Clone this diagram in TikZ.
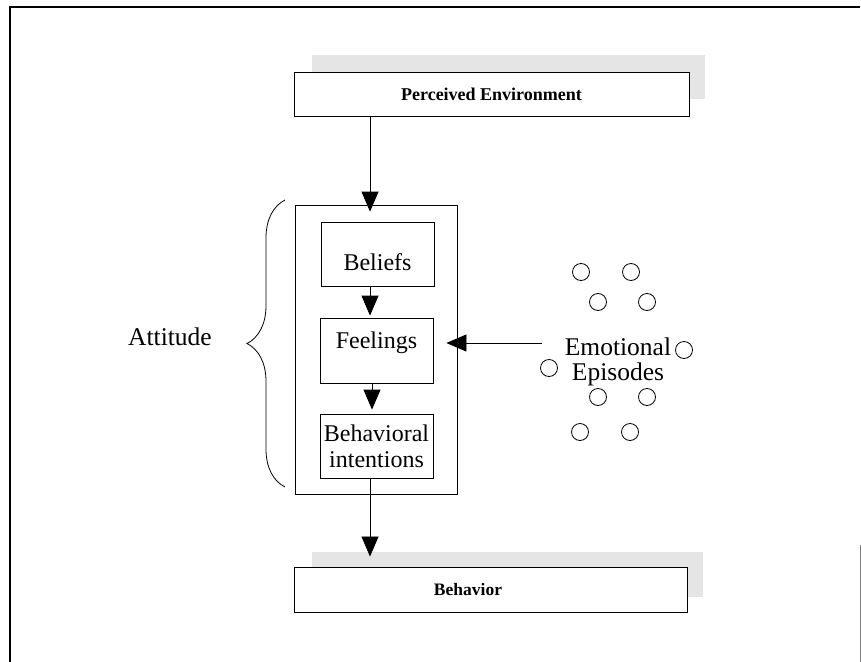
\documentclass[tikz,border=0pt]{standalone}
\usepackage{fontspec}
\setmainfont{Liberation Serif}
\usetikzlibrary{arrows.meta,decorations.pathreplacing}
\begin{document}
\begin{tikzpicture}[x=1pt,y=-1pt,
  bigbox/.style={draw,line width=0.9pt,fill=white,inner sep=0pt},
  shadowbox/.style={fill=gray!20,draw=none},
  innerbox/.style={draw,line width=0.8pt,inner sep=0pt,align=center,font=\fontsize{24}{26}\selectfont},
  boxtext/.style={font=\fontsize{24}{26}\selectfont,align=center,inner sep=0pt},
  arr/.style={line width=0.8pt,-{Triangle[length=20pt,width=17pt]}},
  epi/.style={draw,circle,line width=0.8pt,minimum size=17pt,inner sep=0pt},
  lbl/.style={font=\fontsize{25.5}{25}\selectfont,align=center,inner sep=0pt}]
\useasboundingbox (0,0) rectangle (861,661);
\fill[white] (0,0) rectangle (861,661);
% outer frame
\draw[line width=1.1pt] (10,670) -- (10,7) -- (860,7);
\draw[gray,line width=0.8pt] (860,545) -- (860,670);
% shadows
\fill[shadowbox] (312,55) rectangle (705,99);
\fill[shadowbox] (312,552) rectangle (703,597);
% top and bottom boxes
\node[bigbox,minimum width=395pt,minimum height=44pt,font=\fontsize{18}{18}\selectfont\bfseries] (env) at (491.5,94) {Perceived Environment};
\node[bigbox,minimum width=393pt,minimum height=45pt] (beh) at (490.5,589.5) {};
\node[font=\fontsize{17.5}{18}\selectfont\bfseries,inner sep=0pt] (behl) at (468,589.5) {Behavior};
% attitude box
\node[draw,line width=0.8pt,minimum width=162pt,minimum height=289pt,inner sep=0pt] (att) at (376,349.5) {};
\node[draw,line width=0.8pt,minimum width=113pt,minimum height=64pt] (bel) at (377.5,254) {};
\node[boxtext] (bell) at (377.5,262) {Beliefs};
\node[draw,line width=0.8pt,minimum width=113pt,minimum height=65pt] (fee) at (376.5,350.5) {};
\node[boxtext] (feel) at (376.5,343) {Feelings};
\node[innerbox,minimum width=113pt,minimum height=64pt] (bin) at (376.5,446) {Behavioral\\intentions};
% arrows
\draw[arr,shorten >=-7pt] ([xshift=-121.5pt]env.south) -- ([xshift=-6pt]att.north);
\draw[arr,shorten >=2pt] ([xshift=-7.5pt]bel.south) -- ([xshift=-6.5pt]fee.north);
\draw[arr,shorten >=4pt] ([xshift=-4.5pt]fee.south) -- ([xshift=-4.5pt]bin.north);
\draw[arr,shorten >=10pt] ([xshift=-6.5pt]bin.south) -- ([xshift=-120.5pt]beh.north);
% emotional episodes
\node[lbl] (emo) at (618,362) {Emotional\\Episodes};
\coordinate (es) at (542,343);
\draw[arr,shorten >=-11pt] (es) -- (att.east |- es);
\node[epi] (c1) at (581,272) {};
\node[epi] (c2) at (631,272) {};
\node[epi] (c3) at (598,302) {};
\node[epi] (c4) at (647,302) {};
\node[epi] (c5) at (684,350) {};
\node[epi] (c6) at (549,368) {};
\node[epi] (c7) at (598,397) {};
\node[epi] (c8) at (647,397) {};
\node[epi] (c9) at (580,432) {};
\node[epi] (c10) at (630,432) {};
% attitude brace
\node[lbl] (attl) at (170,337) {Attitude};
\draw[line width=0.8pt,decorate,decoration={brace,amplitude=38pt}] (285,487) -- (285,200);
\end{tikzpicture}
\end{document}
